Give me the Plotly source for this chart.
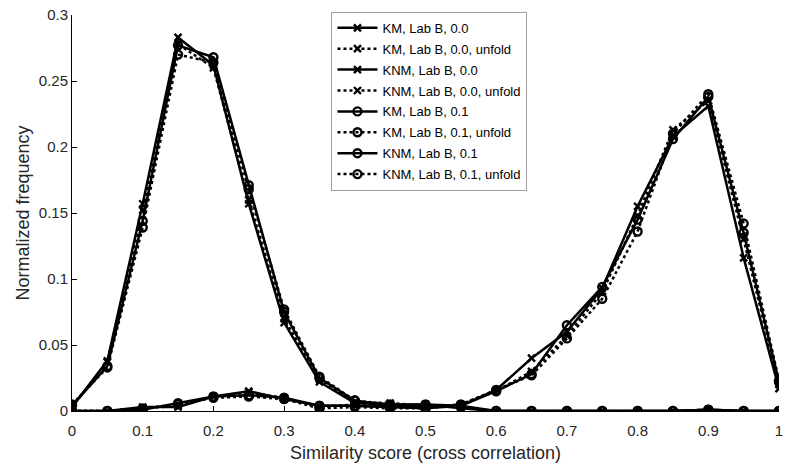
import plotly.graph_objects as go

x_vals = [0, 0.05, 0.1, 0.15, 0.2, 0.25, 0.3, 0.35, 0.4, 0.45, 0.5,
          0.55, 0.6, 0.65, 0.7, 0.75, 0.8, 0.85, 0.9, 0.95, 1.0]

km_00 = [0, 0, 0.003, 0.003, 0.011, 0.015, 0.009, 0.004, 0.004, 0.003, 0.003,
         0.004, 0.016, 0.040, 0.060, 0.093, 0.155, 0.208, 0.231, 0.116, 0.017]
km_00_unfold = [0, 0, 0.002, 0.004, 0.011, 0.014, 0.010, 0.003, 0.005, 0.003, 0.003,
                0.005, 0.015, 0.030, 0.057, 0.090, 0.148, 0.213, 0.235, 0.130, 0.020]
knm_00 = [0.003, 0.038, 0.157, 0.283, 0.262, 0.157, 0.067, 0.022, 0.006, 0.005, 0.005,
          0.002, 0, 0, 0, 0, 0, 0, 0.001, 0, 0]
knm_00_unfold = [0.003, 0.037, 0.152, 0.278, 0.260, 0.160, 0.070, 0.024, 0.007, 0.006, 0.004,
                 0.003, 0, 0, 0, 0, 0, 0, 0.001, 0, 0]
km_01 = [0, 0, 0.001, 0.006, 0.011, 0.012, 0.010, 0.004, 0.004, 0.003, 0.002,
         0.004, 0.015, 0.028, 0.065, 0.094, 0.145, 0.206, 0.238, 0.135, 0.022]
km_01_unfold = [0, 0, 0.002, 0.005, 0.010, 0.011, 0.009, 0.002, 0.003, 0.002, 0.002,
                0.005, 0.016, 0.027, 0.055, 0.085, 0.136, 0.210, 0.240, 0.142, 0.023]
knm_01 = [0.004, 0.034, 0.144, 0.277, 0.268, 0.171, 0.075, 0.025, 0.008, 0.004, 0.005,
          0.004, 0, 0, 0, 0, 0, 0, 0.001, 0, 0]
knm_01_unfold = [0.005, 0.033, 0.139, 0.270, 0.264, 0.168, 0.077, 0.026, 0.008, 0.005, 0.004,
                 0.003, 0, 0, 0, 0, 0, 0, 0.001, 0, 0]

series_names = ["KM, Lab B, 0.0", "KM, Lab B, 0.0, unfold",
                "KNM, Lab B, 0.0", "KNM, Lab B, 0.0, unfold",
                "KM, Lab B, 0.1", "KM, Lab B, 0.1, unfold",
                "KNM, Lab B, 0.1", "KNM, Lab B, 0.1, unfold"]
series_values = [km_00, km_00_unfold, knm_00, knm_00_unfold,
                 km_01, km_01_unfold, knm_01, knm_01_unfold]

x_ticks = [0, 0.1, 0.2, 0.3, 0.4, 0.5, 0.6, 0.7, 0.8, 0.9, 1.0]
x_tick_labels = ["0", "0.1", "0.2", "0.3", "0.4", "0.5", "0.6", "0.7", "0.8", "0.9", "1"]
y_ticks = [0, 0.05, 0.1, 0.15, 0.2, 0.25, 0.3]
y_tick_labels = ["0", "0.05", "0.1", "0.15", "0.2", "0.25", "0.3"]

fig = go.Figure()
for i, (name, vals) in enumerate(zip(series_names, series_values)):
    dotted = "unfold" in name
    cross = "0.0" in name.split(", ")[2]
    if cross:
        marker = dict(symbol="x-thin-open", size=7, color="black",
                      line=dict(width=2.4, color="black"))
    else:
        marker = dict(symbol="circle-open", size=8, color="black",
                      line=dict(width=2.4, color="black"))
    fig.add_trace(go.Scatter(
        x=x_vals, y=vals, name=name, mode="lines+markers",
        line=dict(color="black", width=2.5, dash="dot" if dotted else "solid"),
        marker=marker, legendgroup="g%d" % i,
    ))

fig.update_layout(
    width=785, height=463,
    margin=dict(l=72, r=2, t=15, b=52),
    paper_bgcolor="white", plot_bgcolor="white",
    font=dict(family="Liberation Sans, Arial, sans-serif", color="#262626", size=15),
    showlegend=True,
    legend=dict(x=0.367, y=1.008, xanchor="left", yanchor="top",
                bgcolor="white", bordercolor="#a0a0a0", borderwidth=1,
                font=dict(size=13, color="black"), tracegroupgap=1,
                itemwidth=40),
)
fig.update_xaxes(range=[0, 1], tickvals=x_ticks, ticktext=x_tick_labels,
                 ticks="inside", ticklen=5, tickcolor="black", tickwidth=1,
                 ticklabeloverflow="allow", ticklabelstandoff=6,
                 showline=True, linecolor="black", linewidth=1,
                 showgrid=False, zeroline=False,
                 title=dict(text="Similarity score (cross correlation)", standoff=8))
fig.update_yaxes(range=[0, 0.3], tickvals=y_ticks, ticktext=y_tick_labels,
                 ticks="inside", ticklen=5, tickcolor="black", tickwidth=1,
                 showline=True, linecolor="black", linewidth=1,
                 showgrid=False, zeroline=False,
                 title=dict(text="Normalized frequency", standoff=4))

fig.write_html("out.html")
